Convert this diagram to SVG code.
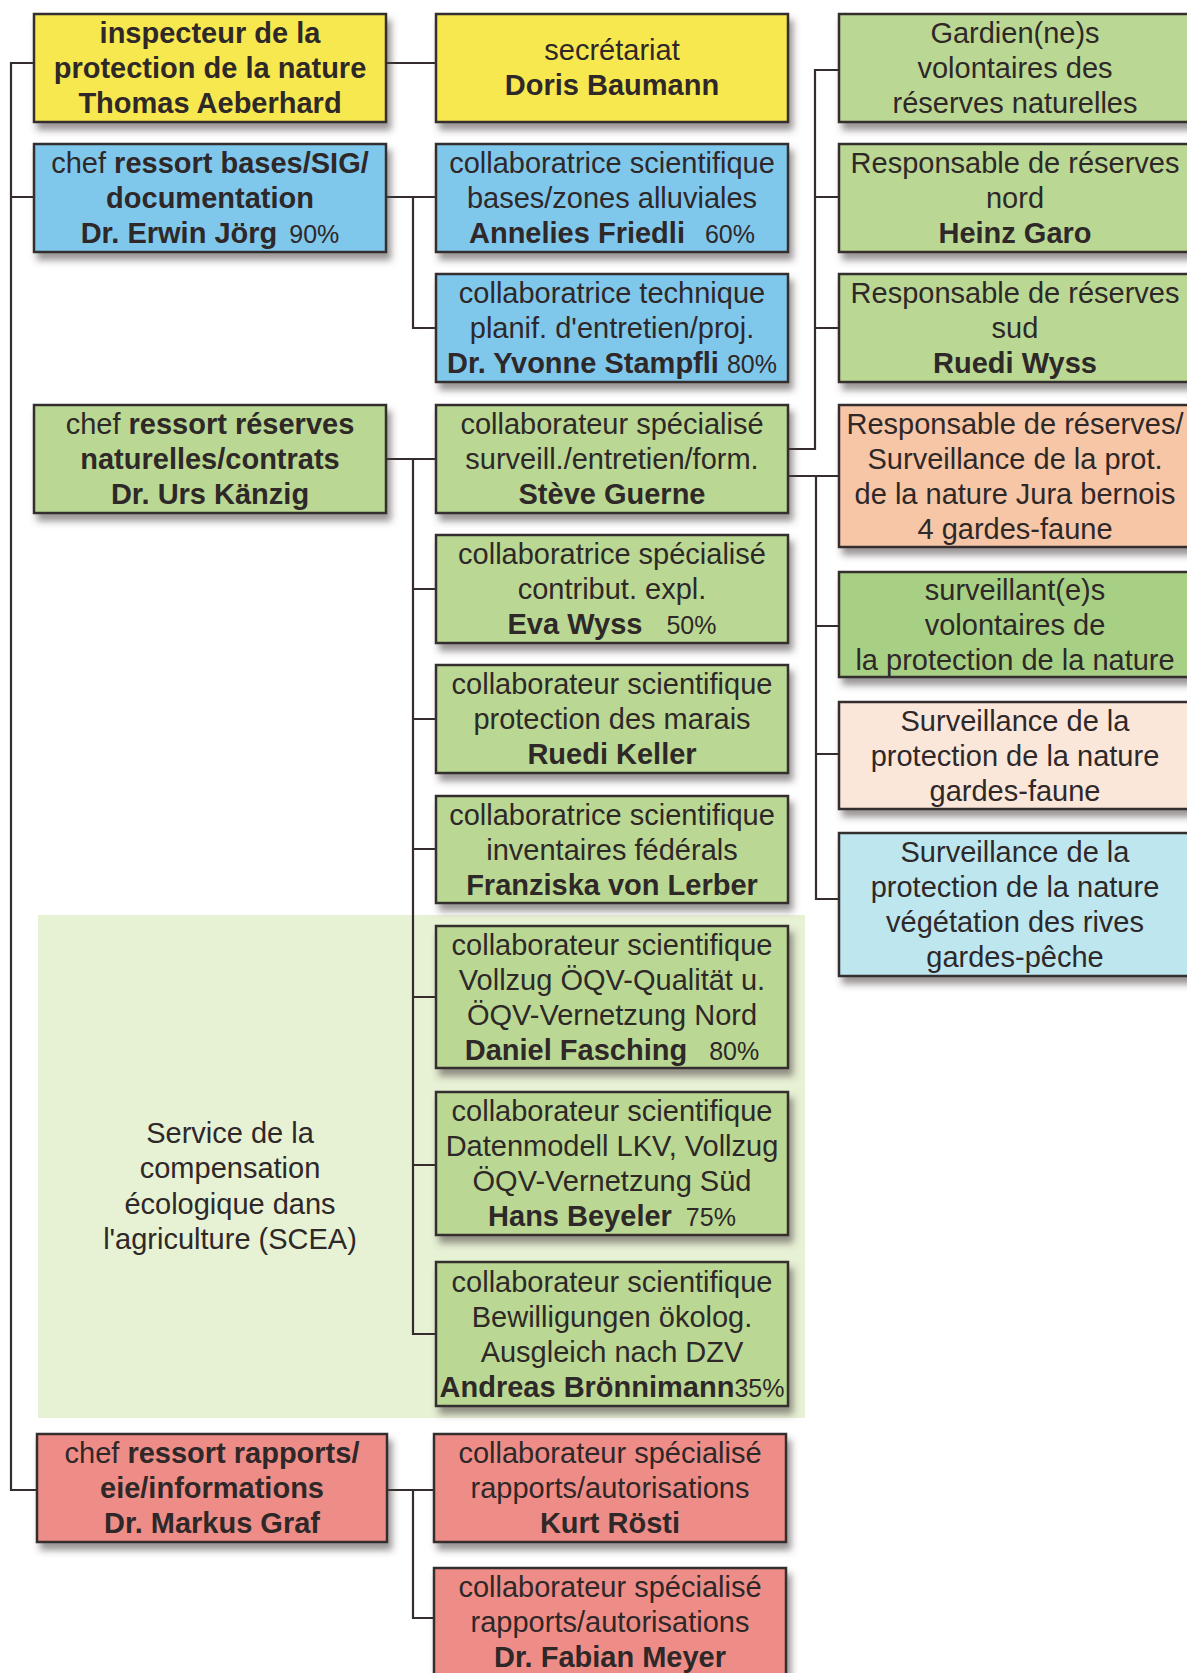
<svg xmlns="http://www.w3.org/2000/svg" width="1187" height="1673" viewBox="0 0 1187 1673">
<defs>
<filter id="sh" x="-5%" y="-10%" width="115%" height="135%">
<feDropShadow dx="4" dy="7" stdDeviation="3.5" flood-color="#4a4040" flood-opacity="0.55"/>
</filter>
<style>
.box{stroke:#352d2d;stroke-width:2.5;filter:url(#sh)}
.yel{fill:#f8e84f}
.blu{fill:#80c7ec}
.grn{fill:#bad893}
.grn2{fill:#a8d084}
.org{fill:#f6c6a6}
.pnk{fill:#fbe6da}
.cyn{fill:#bde6ef}
.red{fill:#ee8d88}
text{font-family:"Liberation Sans",Arial,sans-serif;font-size:29px;fill:#2e2828;text-anchor:middle}
.b{font-weight:bold}
.p{font-size:25px;font-weight:normal}
.con{fill:none;stroke:#352d2d;stroke-width:2.2}
</style>
</defs>
<rect x="0" y="0" width="1187" height="1673" fill="#ffffff"/>
<rect id="scea_bg" x="38" y="915" width="767" height="503" fill="#e7f1d4"/>
<text x="230" y="1143">Service de la</text>
<text x="230" y="1178">compensation</text>
<text x="230" y="1214">écologique dans</text>
<text x="230" y="1249">l'agriculture (SCEA)</text>

<g id="connectors">
<path class="con" d="M34,63 H11 V1490 H37 M11,197 H34"/>
<path class="con" d="M386,63 H436"/>
<path class="con" d="M386,197 H436 M413,197 V328 H436"/>
<path class="con" d="M387,459 H436 M413,459 V1334 H436 M413,589 H436 M413,719 H436 M413,849 H436 M413,997 H436 M413,1165 H436"/>
<path class="con" d="M788,449 H815 V70 H839 M815,197 H839 M815,328 H839"/>
<path class="con" d="M788,476 H839 M816,476 V899 H839 M816,626 H839 M816,754 H839"/>
<path class="con" d="M387,1490 H434 M413,1490 V1618 H434"/>
</g>

<g id="n_inspector"><rect class="box yel" x="34" y="14" width="352" height="108"/>
<text x="210" y="43" class="b">inspecteur de la</text>
<text x="210" y="78" class="b">protection de la nature</text>
<text x="210" y="113" class="b">Thomas Aeberhard</text></g>

<g id="n_secretariat"><rect class="box yel" x="436" y="14" width="352" height="108"/>
<text x="612" y="60">secrétariat</text>
<text x="612" y="95" class="b">Doris Baumann</text></g>

<g id="n_gardiens"><rect class="box grn" x="839" y="14" width="352" height="108"/>
<text x="1015" y="43">Gardien(ne)s</text>
<text x="1015" y="78">volontaires des</text>
<text x="1015" y="113">réserves naturelles</text></g>

<g id="n_chef_bases"><rect class="box blu" x="34" y="144" width="352" height="108"/>
<text x="210" y="173">chef <tspan class="b">ressort bases/SIG/</tspan></text>
<text x="210" y="208" class="b">documentation</text>
<text x="210" y="243"><tspan class="b">Dr. Erwin Jörg</tspan><tspan class="p" dx="12">90%</tspan></text></g>

<g id="n_friedli"><rect class="box blu" x="436" y="144" width="352" height="108"/>
<text x="612" y="173">collaboratrice scientifique</text>
<text x="612" y="208">bases/zones alluviales</text>
<text x="612" y="243"><tspan class="b">Annelies Friedli</tspan><tspan class="p" dx="20">60%</tspan></text></g>

<g id="n_garo"><rect class="box grn" x="839" y="144" width="352" height="108"/>
<text x="1015" y="173">Responsable de réserves</text>
<text x="1015" y="208">nord</text>
<text x="1015" y="243" class="b">Heinz Garo</text></g>

<g id="n_stampfli"><rect class="box blu" x="436" y="274" width="352" height="108"/>
<text x="612" y="303">collaboratrice technique</text>
<text x="612" y="338">planif. d'entretien/proj.</text>
<text x="612" y="373"><tspan class="b">Dr. Yvonne Stampfli</tspan><tspan class="p" dx="8">80%</tspan></text></g>

<g id="n_rwyss"><rect class="box grn" x="839" y="274" width="352" height="108"/>
<text x="1015" y="303">Responsable de réserves</text>
<text x="1015" y="338">sud</text>
<text x="1015" y="373" class="b">Ruedi Wyss</text></g>

<g id="n_chef_reserves"><rect class="box grn" x="34" y="405" width="352" height="108"/>
<text x="210" y="434">chef <tspan class="b">ressort réserves</tspan></text>
<text x="210" y="469" class="b">naturelles/contrats</text>
<text x="210" y="504" class="b">Dr. Urs Känzig</text></g>

<g id="n_guerne"><rect class="box grn" x="436" y="405" width="352" height="108"/>
<text x="612" y="434">collaborateur spécialisé</text>
<text x="612" y="469">surveill./entretien/form.</text>
<text x="612" y="504" class="b">Stève Guerne</text></g>

<g id="n_jura"><rect class="box org" x="839" y="405" width="352" height="142"/>
<text x="1015" y="434">Responsable de réserves/</text>
<text x="1015" y="469">Surveillance de la prot.</text>
<text x="1015" y="504">de la nature Jura bernois</text>
<text x="1015" y="539">4 gardes-faune</text></g>

<g id="n_ewyss"><rect class="box grn" x="436" y="535" width="352" height="108"/>
<text x="612" y="564">collaboratrice spécialisé</text>
<text x="612" y="599">contribut. expl.</text>
<text x="612" y="634"><tspan class="b">Eva Wyss</tspan><tspan class="p" dx="24">50%</tspan></text></g>

<g id="n_surveillants"><rect class="box grn2" x="839" y="572" width="352" height="105"/>
<text x="1015" y="600">surveillant(e)s</text>
<text x="1015" y="635">volontaires de</text>
<text x="1015" y="670">la protection de la nature</text></g>

<g id="n_keller"><rect class="box grn" x="436" y="665" width="352" height="108"/>
<text x="612" y="694">collaborateur scientifique</text>
<text x="612" y="729">protection des marais</text>
<text x="612" y="764" class="b">Ruedi Keller</text></g>

<g id="n_gardesfaune"><rect class="box pnk" x="839" y="702" width="352" height="107"/>
<text x="1015" y="731">Surveillance de la</text>
<text x="1015" y="766">protection de la nature</text>
<text x="1015" y="801">gardes-faune</text></g>

<g id="n_lerber"><rect class="box grn" x="436" y="796" width="352" height="107"/>
<text x="612" y="825">collaboratrice scientifique</text>
<text x="612" y="860">inventaires fédérals</text>
<text x="612" y="895" class="b">Franziska von Lerber</text></g>

<g id="n_gardespeche"><rect class="box cyn" x="839" y="833" width="352" height="143"/>
<text x="1015" y="862">Surveillance de la</text>
<text x="1015" y="897">protection de la nature</text>
<text x="1015" y="932">végétation des rives</text>
<text x="1015" y="967">gardes-pêche</text></g>

<g id="n_fasching"><rect class="box grn" x="436" y="926" width="352" height="142"/>
<text x="612" y="955">collaborateur scientifique</text>
<text x="612" y="990">Vollzug ÖQV-Qualität u.</text>
<text x="612" y="1025">ÖQV-Vernetzung Nord</text>
<text x="612" y="1060"><tspan class="b">Daniel Fasching</tspan><tspan class="p" dx="22">80%</tspan></text></g>

<g id="n_beyeler"><rect class="box grn" x="436" y="1092" width="352" height="143"/>
<text x="612" y="1121">collaborateur scientifique</text>
<text x="612" y="1156">Datenmodell LKV, Vollzug</text>
<text x="612" y="1191">ÖQV-Vernetzung Süd</text>
<text x="612" y="1226"><tspan class="b">Hans Beyeler</tspan><tspan class="p" dx="14">75%</tspan></text></g>

<g id="n_bronnimann"><rect class="box grn" x="436" y="1262" width="352" height="144"/>
<text x="612" y="1292">collaborateur scientifique</text>
<text x="612" y="1327">Bewilligungen ökolog.</text>
<text x="612" y="1362">Ausgleich nach DZV</text>
<text x="612" y="1397"><tspan class="b">Andreas Brönnimann</tspan><tspan class="p">35%</tspan></text></g>

<g id="n_chef_rapports"><rect class="box red" x="37" y="1434" width="350" height="108"/>
<text x="212" y="1463">chef <tspan class="b">ressort rapports/</tspan></text>
<text x="212" y="1498" class="b">eie/informations</text>
<text x="212" y="1533" class="b">Dr. Markus Graf</text></g>

<g id="n_rosti"><rect class="box red" x="434" y="1434" width="352" height="108"/>
<text x="610" y="1463">collaborateur spécialisé</text>
<text x="610" y="1498">rapports/autorisations</text>
<text x="610" y="1533" class="b">Kurt Rösti</text></g>

<g id="n_meyer"><rect class="box red" x="434" y="1568" width="352" height="130"/>
<text x="610" y="1597">collaborateur spécialisé</text>
<text x="610" y="1632">rapports/autorisations</text>
<text x="610" y="1667" class="b">Dr. Fabian Meyer</text></g>
</svg>
